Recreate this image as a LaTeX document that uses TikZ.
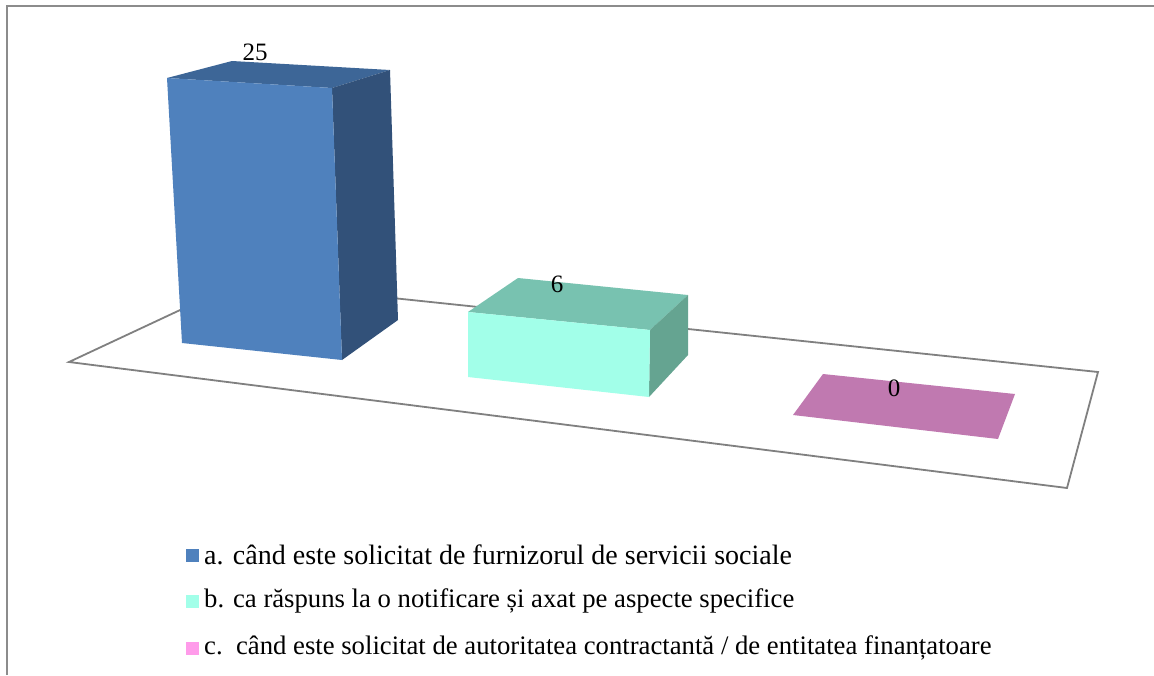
\documentclass[tikz,border=0pt]{standalone}
\usepackage{fontspec}
\setmainfont{Liberation Serif}
\definecolor{frameg}{HTML}{8C8C8C}
\definecolor{floorg}{HTML}{808080}
\definecolor{bfront}{HTML}{4F81BD}
\definecolor{btop}{HTML}{3D6697}
\definecolor{bside}{HTML}{325179}
\definecolor{tfront}{HTML}{A2FFE9}
\definecolor{ttop}{HTML}{78C2B0}
\definecolor{tside}{HTML}{65A491}
\definecolor{pflat}{HTML}{C079B0}
\definecolor{plegend}{HTML}{FF9BEA}
\tikzset{
  vallabel/.style={font=\fontsize{25}{28}\selectfont, inner sep=0pt},
  legtext/.style={font=\fontsize{26.7}{30}\selectfont, anchor=west, inner sep=0pt},
  legsq/.style={minimum size=13pt, inner sep=0pt, draw=none},
}
\begin{document}
\begin{tikzpicture}[x=1pt,y=-1pt]
\useasboundingbox (0,0) rectangle (1154,675);
\fill[white] (0,0) rectangle (1154,675);
% frame
\draw[frameg, line width=2.5pt] (7,675) -- (7,6) -- (1154,6);
% floor
\draw[floorg, line width=1.8pt, line join=miter] (69,362) -- (240,282) -- (1098,372) -- (1067,488) -- cycle;
% blue bar
\fill[btop] (167,78) -- (232,61) -- (390,70) -- (332,88) -- cycle;
\fill[bside] (332,88) -- (390,70) -- (398,320) -- (342,360) -- cycle;
\fill[bfront] (167,78) -- (332,88) -- (342,360) -- (182,343) -- cycle;
% teal bar
\fill[ttop] (468,312) -- (518,278) -- (688,295) -- (650,330) -- cycle;
\fill[tside] (650,330) -- (688,295) -- (688,355) -- (649,397) -- cycle;
\fill[tfront] (468,312) -- (650,330) -- (649,397) -- (468,377) -- cycle;
% pink flat
\fill[pflat] (823,374) -- (1015,394) -- (998,439) -- (793,415) -- cycle;
% value labels
\node[vallabel] (va) at (255,52) {25};
\node[vallabel] (vb) at (557,284) {6};
\node[vallabel] (vc) at (894,388) {0};
% legend
\node[legsq, fill=bfront] (sqa) at (192,555) {};
\node[legsq, fill=tfront] (sqb) at (192,601) {};
\node[legsq, fill=plegend] (sqc) at (192,648) {};
\node[legtext, font=\fontsize{28}{31}\selectfont] (la) at (204,555) {a. când este solicitat de furnizorul de servicii sociale};
\node[legtext] (lb) at (204,601) {b. ca răspuns la o notificare și axat pe aspecte specifice};
\node[legtext] (lc) at (204,648) {c.\ \ când este solicitat de autoritatea contractantă / de entitatea finanțatoare};
\end{tikzpicture}
\end{document}
